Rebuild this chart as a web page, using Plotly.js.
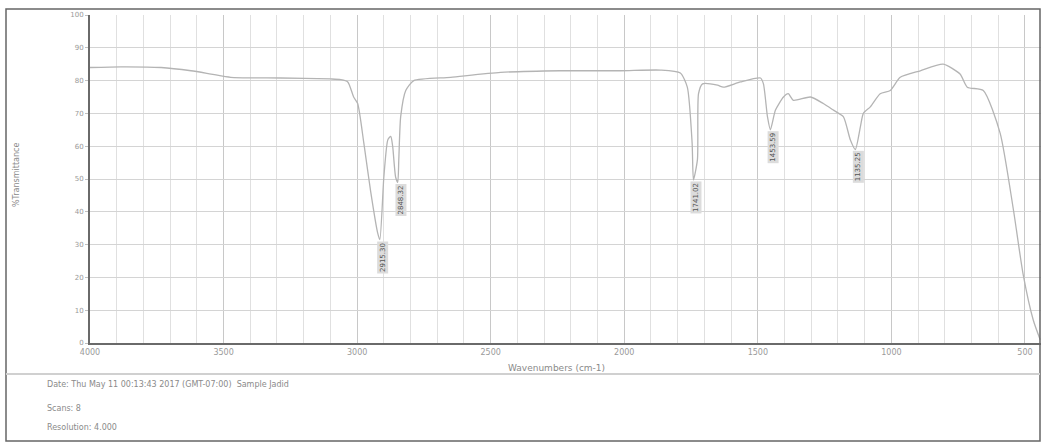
<!DOCTYPE html>
<html>
<head>
<meta charset="utf-8">
<script src="https://cdn.plot.ly/plotly-3.0.1.min.js"></script>
<style>html,body{margin:0;padding:0;background:#fff;}#chart{width:1041px;height:442px;}</style>
</head>
<body>
<div id="chart"></div>
<script>
// Spectrum (wavenumber cm-1, %Transmittance)
const wavenumbers = [4000,3884,3734,3622,3547,3473,3286,3099,3061,3035,3013,2998,2975,2949,2923,2915,2900,2885,2874,2867,2856,2848,2844,2837,2818,2788,2650,2463,2239,2014,1865,1790,1764,1746,1741,1726,1722,1707,1651,1629,1565,1490,1479,1464,1453,1434,1404,1386,1367,1303,1255,1217,1180,1154,1135,1116,1105,1079,1042,1004,967,892,806,743,716,656,593,544,507,469,443];
const transmittance = [84,84.2,84,83,82,81,80.8,80.5,80.3,79.6,75,73,61,46,33.5,31.5,50.6,62,63,60,50.6,49,56,69,77,80,81,82.5,83,83,83.2,82.3,78,61,49.7,56,76,79,78.6,78,79.6,80.8,79,69,65,71,75,76,74,75,73,71,69,62,59,66,70,72,76,77,81,83,85,82,78,77,64,41,21,7,1];

// Peak labels
const peakWn = [2915,2848,1741,1453,1135];
const peakT = [31.5,49,49.7,65,59];
const peakLabels = ["2915.30","2848.32","1741.02","1453.59","1135.25"];

const xTickVals = [4000,3500,3000,2500,2000,1500,1000,500];
const xTickText = ["4000","3500","3000","2500","2000","1500","1000","500"];
const yTickVals = [0,10,20,30,40,50,60,70,80,90,100];
const yTickText = ["0","10","20","30","40","50","60","70","80","90","100"];

const footerLines = [
  "Date: Thu May 11 00:13:43 2017 (GMT-07:00)  Sample Jadid",
  "Scans: 8",
  "Resolution: 4.000"
];

const trace = {
  x: wavenumbers, y: transmittance, type: 'scatter', mode: 'lines',
  line: {color: '#b4b4b4', width: 1.3, shape: 'spline', smoothing: 0.6},
  hoverinfo: 'skip'
};

const annotations = peakWn.map((w, i) => ({
  x: w, y: peakT[i], xref: 'x', yref: 'y',
  text: peakLabels[i], textangle: -90, showarrow: false,
  xanchor: 'center', yanchor: 'top', xshift: 3, yshift: -1,
  font: {family: 'DejaVu Sans', size: 7, color: '#555'},
  bgcolor: '#dcdcdc', borderpad: 1
}));

function px2x(px){ return (px-90)/951; }
function py2y(py){ return (343-py)/328; }

annotations.push({
  xref: 'paper', yref: 'paper', x: px2x(556), y: py2y(368),
  text: 'Wavenumbers (cm-1)', showarrow: false, xanchor: 'center', yanchor: 'middle',
  font: {family: 'DejaVu Sans', size: 9, color: '#8a8a8a'}
});
annotations.push({
  xref: 'paper', yref: 'paper', x: px2x(16), y: py2y(175),
  text: '%Transmittance', textangle: -90, showarrow: false, xanchor: 'center', yanchor: 'middle',
  font: {family: 'DejaVu Sans', size: 8, color: '#8a8a8a'}
});
const footerY = [385, 408, 427];
footerLines.forEach((t, i) => annotations.push({
  xref: 'paper', yref: 'paper', x: px2x(45), y: py2y(footerY[i]),
  text: t, showarrow: false, xanchor: 'left', yanchor: 'middle',
  font: {family: 'DejaVu Sans', size: 8, color: '#8a8a8a'}
}));

const shapes = [
  {type: 'rect', xref: 'paper', yref: 'paper', x0: px2x(6), x1: px2x(1040), y0: py2y(441), y1: py2y(9),
   line: {color: '#666', width: 1.5}, fillcolor: 'rgba(0,0,0,0)', layer: 'above'},
  {type: 'line', xref: 'paper', yref: 'paper', x0: px2x(6), x1: px2x(1040), y0: py2y(374), y1: py2y(374),
   line: {color: '#d0d0d0', width: 2}}
];

const layout = {
  width: 1041, height: 442,
  margin: {l: 90, r: 0, t: 15, b: 99},
  paper_bgcolor: '#ffffff', plot_bgcolor: '#ffffff',
  showlegend: false,
  xaxis: {
    range: [4000, 440], tickvals: xTickVals, ticktext: xTickText,
    showgrid: true, gridcolor: '#c8c8c8', gridwidth: 1,
    minor: {dtick: 100, tick0: 0, showgrid: true, gridcolor: '#e0e0e0', gridwidth: 1},
    showline: true, linecolor: '#6a6a6a', linewidth: 2, zeroline: false,
    ticks: '', tickfont: {family: 'DejaVu Sans', size: 8, color: '#9a9a9a'}
  },
  yaxis: {
    range: [0, 100], tickvals: yTickVals, ticktext: yTickText,
    showgrid: true, gridcolor: '#d4d4d4', gridwidth: 1,
    showline: true, linecolor: '#6a6a6a', linewidth: 2, zeroline: false,
    ticks: 'outside', ticklen: 3, tickcolor: '#c0c0c0',
    tickfont: {family: 'DejaVu Sans', size: 7, color: '#999'}
  },
  annotations: annotations,
  shapes: shapes
};

Plotly.newPlot('chart', [trace], layout, {staticPlot: true, displayModeBar: false});
</script>
</body>
</html>
